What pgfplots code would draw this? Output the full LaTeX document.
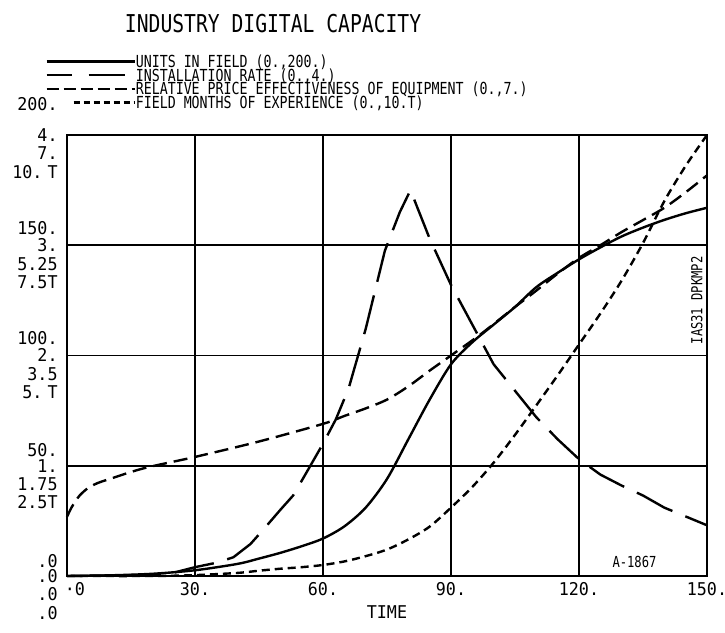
\documentclass[border=0pt]{standalone}
\usepackage{fontspec}
\usepackage{pgfplots}
\usepackage{pgfplotstable}
\pgfplotsset{compat=1.18}
\setmainfont{DejaVu Sans Mono}
\newfontfamily\pfa{DejaVu Sans Mono}[FakeStretch=0.8]
\newfontfamily\pfb{DejaVu Sans Mono}[FakeStretch=0.95]
\newcommand\lf{\pfa\fontsize{8.3}{9}\selectfont}
\newcommand\titlef{\pfa\fontsize{12.3}{14}\selectfont}
\newcommand\tf{\pfb\fontsize{8.8}{9}\selectfont}
\newcommand\af{\pfa\fontsize{7.6}{8}\selectfont}
\newcommand{\stk}[5]{\begin{tabular}[t]{@{}r@{}}#3\llap{\raisebox{#1}{#2}}\\#4\\#5\end{tabular}}

\pgfplotstableread{
t v
0 0
10 0.3
20 1
30 2.6
40 5.5
45 7.9
50 10.5
55 13.5
60 17
65 22.5
70 31
75 44
80 62
85 80
90 96
95 106
100 114
105 122
110 131
115 137.5
120 143.6
125 149
130 154
135 158
140 161.5
145 164.5
150 167
}\units

\pgfplotstableread{
t v
0 0
20 0.01
25 0.03
30 0.08
35 0.12
39 0.17
43 0.29
46 0.42
50 0.6
53 0.73
56 0.93
60 1.2
63 1.42
66 1.7
70 2.24
74.5 2.95
78 3.3
80.5 3.5
85 3.06
90 2.64
95 2.28
100 1.92
105 1.68
110 1.44
115 1.24
120 1.06
125 0.92
130 0.82
135 0.73
140 0.62
145 0.54
150 0.46
}\rate

\pgfplotstableread{
t v
0 0.94
1 1.08
2 1.19
3 1.28
4.8 1.39
7 1.47
10 1.54
18 1.71
30 1.89
45 2.135
60 2.415
65 2.54
70 2.66
75 2.8
80 3.01
85 3.26
90 3.5
97 3.84
105 4.27
110 4.53
115 4.8
120 5.05
125 5.25
130 5.46
135 5.65
140 5.845
145 6.09
150 6.36
}\price

\pgfplotstableread{
t v
0 0
20 0
30 0.02
40 0.07
45 0.12
50 0.165
55 0.2
60 0.25
65 0.33
70 0.45
75 0.6
80 0.83
85 1.12
90 1.55
95 2.02
100 2.57
105 3.2
110 3.87
115 4.55
120 5.25
125 5.95
130 6.7
135 7.55
140 8.5
145 9.3
150 10.0
}\months

\begin{document}
\begin{tikzpicture}
\path[use as bounding box] (-33.5pt,-28.5pt) rectangle (329pt,288pt);
\begin{axis}[
  at={(0pt,0pt)}, anchor=south west,
  scale only axis, width=320pt, height=220.5pt,
  xmin=0, xmax=150, ymin=0, ymax=200,
  clip=false,
  xtick={0,30,60,90,120,150},
  xticklabels={\hspace*{8pt}·0,30.,60.,90.,120.,150.},
  ytick={0,50,100,150,200},
  yticklabels={
    {\stk{7.5pt}{.0}{.0}{.0}{.0}},
    {\stk{8pt}{50.}{1.}{1.75}{2.5T}},
    {\stk{8.5pt}{100.}{2.}{3.5}{5.\kern2.5pt T}},
    {\stk{8.5pt}{150.}{3.}{5.25}{7.5T}},
    {\stk{15.5pt}{200.}{4.}{7.}{10.\kern2.5pt T}}
  },
  major tick length=0pt,
  grid=major,
  major grid style={black, line width=0.8pt},
  axis line style={black, line width=0.9pt},
  xticklabel style={font=\tf, inner sep=0pt, anchor=north, yshift=-3pt},
  yticklabel style={font=\tf, inner sep=0pt, anchor=base east, xshift=-4.5pt, yshift=-3.2pt},
  xlabel={TIME},
  xlabel style={font=\tf, at={(axis description cs:0.5,-0.082)}, anchor=center},
  title={INDUSTRY DIGITAL CAPACITY},
  title style={font=\titlef, at={(axis description cs:0.322,1.252)}, anchor=center, yshift=-6pt},
  legend style={at={(-0.0344,1.181)}, anchor=north west, draw=none, fill=none,
    inner sep=0pt, row sep=0.85pt, column sep=0pt, font=\lf,
    nodes={inner sep=0pt, text height=6pt, text depth=0pt}},
  legend cell align=left,
]
\addplot[black, line width=1.2pt, smooth,
  legend image code/.code={\draw[black,line width=1.2pt] (0pt,0pt) -- (44pt,0pt);}]
  table[x=t, y=v] {\units};
\addlegendentry{{UNITS IN FIELD (0.,200.)}}
\addplot[black, line width=1.2pt, dash pattern=on 20pt off 7pt,
  legend image code/.code={\draw[black,line width=1.2pt] (0pt,0pt) -- (12.5pt,0pt) (21pt,0pt) -- (39pt,0pt);}]
  table[x=t, y expr=\thisrow{v}*50] {\rate};
\addlegendentry{{INSTALLATION RATE (0.,4.)}}
\addplot[black, line width=1.2pt, smooth, dash pattern=on 7pt off 3.5pt,
  legend image code/.code={\draw[black,line width=1.2pt,dash pattern=on 6pt off 2.5pt] (0pt,0pt) -- (44pt,0pt);}]
  table[x=t, y expr=\thisrow{v}*200/7] {\price};
\addlegendentry{{RELATIVE PRICE EFFECTIVENESS OF EQUIPMENT (0.,7.)}}
\addplot[black, line width=1.2pt, smooth, dash pattern=on 4pt off 2.5pt,
  legend image code/.code={\draw[black,line width=1.2pt,dash pattern=on 3pt off 2pt] (13.5pt,0pt) -- (44pt,0pt);}]
  table[x=t, y expr=\thisrow{v}*20] {\months};
\addlegendentry{{FIELD MONTHS OF EXPERIENCE (0.,10.T)}}
\node[font=\af, rotate=90] at (axis cs:147.6,125) {IAS31 DPKMP2};
\node[font=\af] at (axis cs:133,6.3) {A-1867};
\end{axis}
\end{tikzpicture}
\end{document}
